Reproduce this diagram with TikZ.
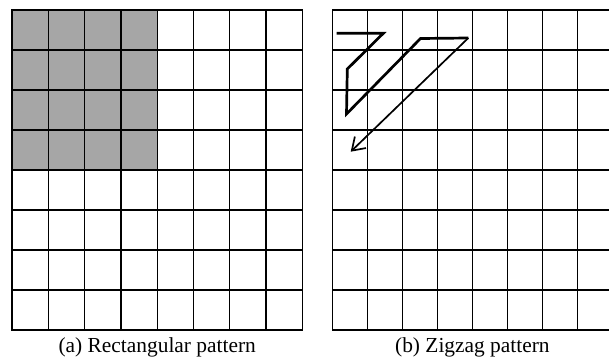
\documentclass[tikz,border=0pt]{standalone}
\usepackage{fontspec}
\setmainfont{Liberation Serif}
\usepackage{xcolor}
\usetikzlibrary{arrows.meta,positioning}
\definecolor{cellgray}{RGB}{166,166,166}
\tikzset{
  gridline/.style={draw=black, line width=1.3pt, line cap=rect},
  caption/.style={anchor=base, inner sep=0pt, font=\fontsize{21.4}{24}\selectfont},
  zig/.style={line width=2.7pt, line join=miter},
  arr/.style={-{Straight Barb[length=12pt,width=16pt]}, line width=1.7pt},
}

\begin{document}
\begin{tikzpicture}[x=1pt,y=-1pt]
  \useasboundingbox (0,0) rectangle (609,358);
  % (a) rectangular pattern
  \fill[cellgray] (12,10) rectangle (12+4*36.29,170);
  \foreach \i in {0,...,8} {
    \draw[gridline] (12+\i*36.29,10) -- (12+\i*36.29,330);
    \draw[gridline] (12,10+\i*40) -- (302.3,10+\i*40);
  }
  \node[caption] (capa) at (157.2,352.7) {(a) Rectangular pattern};
  % (b) zigzag pattern
  \foreach \i in {0,...,8} {
    \draw[gridline] (332.3+\i*35.01,10) -- (332.3+\i*35.01,330);
    \draw[gridline] (332.3,10+\i*40) -- (612.4,10+\i*40);
  }
  \node[caption] (capb) at (472.4,352.7) {(b) Zigzag pattern};
  % scan order
  \coordinate (z1) at (336.7,33.3);
  \coordinate (z2) at (383.3,33.3);
  \coordinate (z3) at (347.3,69);
  \coordinate (z4) at (346.5,114);
  \coordinate (z5) at (420.5,38.5);
  \coordinate (z6) at (468.3,38);
  \coordinate (z7) at (350.7,151.7);
  \draw[zig] (z1) -- (z2) -- (z3) -- (z4) -- (z5) -- (z6);
  \draw[arr] (z6) -- (z7);
\end{tikzpicture}
\end{document}
